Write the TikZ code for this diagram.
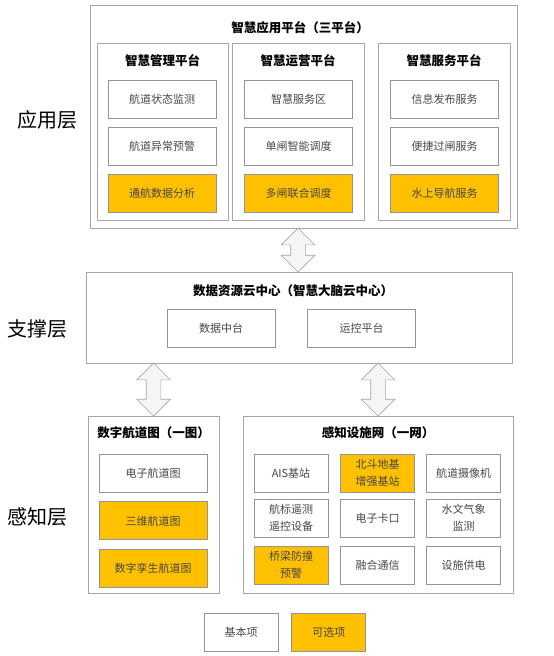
\documentclass[tikz,border=0pt]{standalone}
\usepackage{fontspec}
\setmainfont{Noto Sans CJK SC}
\usetikzlibrary{shapes.arrows,positioning,calc}
\definecolor{optcol}{HTML}{FFC000}
\definecolor{linecol}{HTML}{A6A6A6}

\begin{document}
\begin{tikzpicture}[
  x=1pt, y=-1pt,
  font=\fontsize{11}{15}\selectfont,
  box/.style={draw=linecol!120, line width=0.8pt, minimum width=108pt, minimum height=38pt, inner sep=1pt, align=center, text=black!72},
  opt/.style={box, fill=optcol},
  cell/.style={box, minimum width=74pt},
  frame/.style={draw=linecol, line width=0.8pt, inner sep=0pt},
  title/.style={font=\fontsize{12.5}{14}\selectfont\bfseries},
  layer/.style={font=\fontsize{20}{22}\selectfont},
  link/.style={double arrow, rotate=90, draw=linecol, fill=black!4, line width=0.7pt, inner sep=7pt, double arrow head extend=9.5pt, minimum width=33pt}
]
\useasboundingbox (0,0) rectangle (554,656);

% application layer
\node[frame, minimum width=427pt, minimum height=223pt] (app) at (303.5,116.5) {};
\node[title] at (300,28) {智慧应用平台（三平台）};
\node[frame, minimum width=131pt, minimum height=177pt] (mgmt) at (162.5,131.5) {};
\node[frame, minimum width=132pt, minimum height=177pt] (ops) at (298,131.5) {};
\node[frame, minimum width=132pt, minimum height=177pt] (serv) at (444,131.5) {};
\node[title] at (162.5,61) {智慧管理平台};
\node[title] at (298,61) {智慧运营平台};
\node[title] at (444,61) {智慧服务平台};
\node[box] (m1) at (162,99.5) {航道状态监测};
\node[box, below=8pt of m1] (m2) {航道异常预警};
\node[opt, below=8pt of m2] (m3) {通航数据分析};
\node[box] (o1) at (298.5,99.5) {智慧服务区};
\node[box, below=8pt of o1] (o2) {单闸智能调度};
\node[opt, below=8pt of o2] (o3) {多闸联合调度};
\node[box] (s1) at (444.5,99.5) {信息发布服务};
\node[box, below=8pt of s1] (s2) {便捷过闸服务};
\node[opt, below=8pt of s2] (s3) {水上导航服务};
\node[layer] at (47,120) {应用层};

% support layer
\node[frame, minimum width=426pt, minimum height=91pt] (sup) at (299,317.5) {};
\node[title] at (293,291) {数据资源云中心（智慧大脑云中心）};
\node[box] (data) at (221,328) {数据中台};
\node[box] (ctrl) at (361.5,328) {运控平台};
\node[layer] at (37,329) {支撑层};

% perception layer
\node[frame, minimum width=131pt, minimum height=177pt] (map) at (153.5,504.5) {};
\node[frame, minimum width=270pt, minimum height=177pt] (net) at (378,504.5) {};
\node[title] at (153.5,433) {数字航道图（一图）};
\node[title] at (378,433) {感知设施网（一网）};
\node[box] (p1) at (153,473) {电子航道图};
\node[opt, below=9pt of p1] (p2) {三维航道图};
\node[opt, below=9pt of p2] (p3) {数字孪生航道图};
\node[cell] (n1) at (291,473) {AIS基站};
\node[cell, fill=optcol] (n2) at (377.5,473) {北斗地基\\[2.5pt]增强基站};
\node[cell] (n3) at (463.5,473) {航道摄像机};
\node[cell] (n4) at (291,518) {航标遥测\\[2.5pt]遥控设备};
\node[cell] (n5) at (377.5,518) {电子卡口};
\node[cell] (n6) at (463.5,518) {水文气象\\[2.5pt]监测};
\node[cell, fill=optcol] (n7) at (291,565) {桥梁防撞\\[2.5pt]预警};
\node[cell] (n8) at (377.5,565) {融合通信};
\node[cell] (n9) at (463.5,565) {设施供电};
\node[layer] at (37,517) {感知层};

% legend
\node[cell] (basic) at (241,632) {基本项};
\node[cell, fill=optcol, right=13pt of basic] (optional) {可选项};

% links between layers
\node[link, minimum height=44pt] (l1) at ($(ops.center |- app.south)!0.5!(ops.center |- sup.north)$) {};
\node[link, minimum height=53pt] (l2) at ($(map.north |- sup.south)!0.5!(map.north)$) {};
\node[link, minimum height=53pt] (l3) at ($(net.north |- sup.south)!0.5!(net.north)$) {};
\end{tikzpicture}
\end{document}
